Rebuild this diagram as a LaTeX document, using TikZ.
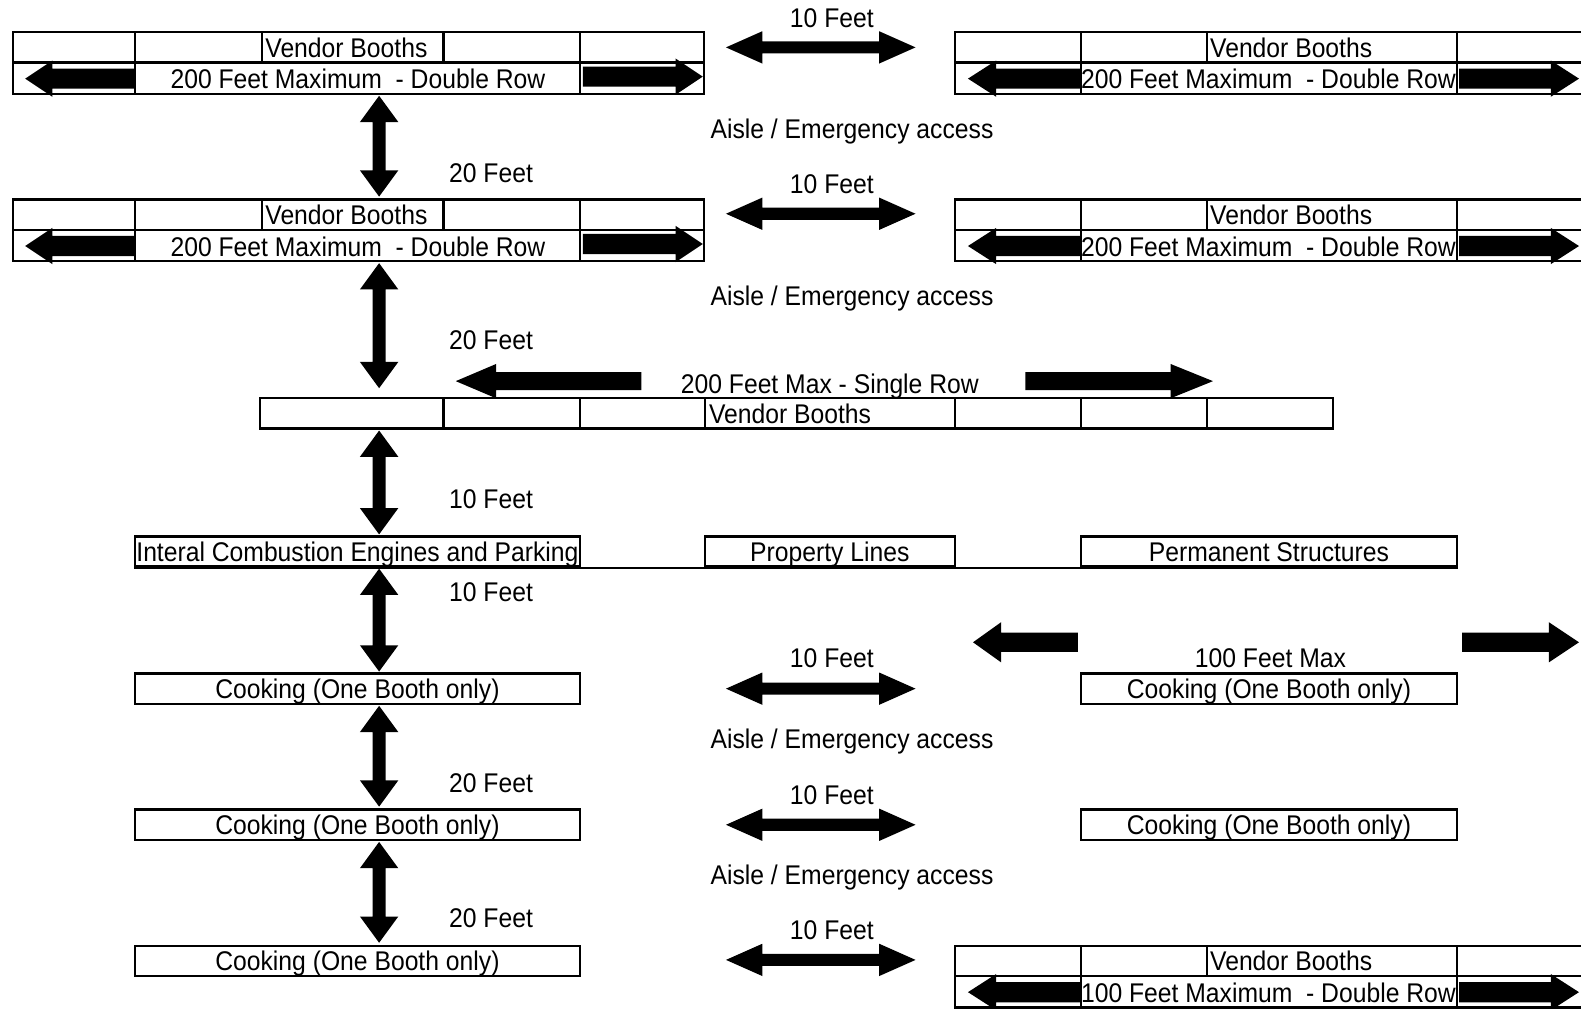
\documentclass[tikz,border=0pt]{standalone}
\usepackage{fontspec}
\setmainfont{Liberation Sans}[FakeStretch=0.914]
% left-pointing block arrow: tip, tail, y, head length, head half, shaft half
\newcommand\LArr[6]{\fill ({#1},{#3}) -- ({#1+#4},{#3-#5}) -- ({#1+#4},{#3-#6}) -- ({#2},{#3-#6}) -- ({#2},{#3+#6}) -- ({#1+#4},{#3+#6}) -- ({#1+#4},{#3+#5}) -- cycle;}
% right-pointing block arrow: tail, tip, y, head length, head half, shaft half
\newcommand\RArr[6]{\fill ({#2},{#3}) -- ({#2-#4},{#3-#5}) -- ({#2-#4},{#3-#6}) -- ({#1},{#3-#6}) -- ({#1},{#3+#6}) -- ({#2-#4},{#3+#6}) -- ({#2-#4},{#3+#5}) -- cycle;}
% horizontal double block arrow: x1, x2, y
\newcommand\HDbl[3]{\fill ({#1},{#3}) -- ({#1+36},{#3-16}) -- ({#1+36},{#3-6}) -- ({#2-36},{#3-6}) -- ({#2-36},{#3-16}) -- ({#2},{#3}) -- ({#2-36},{#3+16}) -- ({#2-36},{#3+6}) -- ({#1+36},{#3+6}) -- ({#1+36},{#3+16}) -- cycle;}
% vertical double block arrow: x, y1, y2
\newcommand\VDbl[3]{\fill ({#1},{#2}) -- ({#1-19},{#2+26}) -- ({#1-6.5},{#2+26}) -- ({#1-6.5},{#3-26}) -- ({#1-19},{#3-26}) -- ({#1},{#3}) -- ({#1+19},{#3-26}) -- ({#1+6.5},{#3-26}) -- ({#1+6.5},{#2+26}) -- ({#1+19},{#2+26}) -- cycle;}
% left double-row block: id, ytop
\newcommand\LDouble[2]{%
 \draw[ln] (13,{#2}) rectangle (698,{#2+61});
 \draw[ln] (13,{#2+30}) -- (698,{#2+30});
 \foreach \xx in {134,575} {\draw[ln] (\xx,{#2}) -- (\xx,{#2+61});}
 \foreach \xx in {260,440} {\draw[ln] (\xx,{#2}) -- (\xx,{#2+30});}
 \LArr{25}{134}{#2+46}{27}{18}{10}
 \RArr{578}{697}{#2+44}{27}{18}{10}
 \node[lblw] (#1v) at (263,{#2+25}) {Vendor Booths};
 \node[lbl] (#1t) at (355,{#2+56}) {200 Feet Maximum~~- Double Row};
}
% right double-row block: id, ytop, text
\newcommand\RDouble[3]{%
 \draw[ln] (947,{#2}) rectangle (1580,{#2+61});
 \draw[ln] (947,{#2+30}) -- (1580,{#2+30});
 \foreach \xx in {1072,1445} {\draw[ln] (\xx,{#2}) -- (\xx,{#2+61});}
 \draw[ln] (1197,{#2}) -- (1197,{#2+30});
 \LArr{960}{1072}{#2+46}{28}{18}{10}
 \RArr{1447}{1566}{#2+46}{28}{18}{10}
 \node[lblw] (#1v) at (1200,{#2+25}) {Vendor Booths};
 \node[lbl] (#1t) at (1258,{#2+56}) {#3};
}
\begin{document}
\begin{tikzpicture}[x=1pt,y=-1pt,
 ln/.style={line width=2.4pt},
 lbl/.style={font=\fontsize{26.8}{30}\selectfont, inner sep=0pt, anchor=base},
 lblw/.style={lbl, anchor=base west},
 bx/.style={draw, line width=2.4pt, inner sep=0pt, minimum height=30pt, font=\fontsize{26.8}{30}\selectfont, text height=19.2pt, text depth=0pt}]
\useasboundingbox (0,0) rectangle (1568,1000);
\fill[white] (0,0) rectangle (1568,1000);
\clip (0,0) rectangle (1568,1000);

% ---- double rows ----
\LDouble{la}{32}
\RDouble{ra}{32}{200 Feet Maximum~~- Double Row}
\LDouble{lb}{198}
\RDouble{rb}{198}{200 Feet Maximum~~- Double Row}
\RDouble{rc}{938}{100 Feet Maximum~~- Double Row}

% ---- single row ----
\draw[ln] (258,395) rectangle (1322,425);
\foreach \xx in {440,575,699,947,1072,1197} {\draw[ln] (\xx,395) -- (\xx,425);}
\node[lblw] (sv) at (703,420) {Vendor Booths};
\LArr{452}{636}{378}{40}{17}{9}
\RArr{1017}{1203}{378}{42}{17}{9}
\node[lbl] (st) at (823,390) {200 Feet Max - Single Row};

% ---- three boxes row ----
\node[bx, minimum width=441pt] (ice) at (354.5,547) {Interal Combustion Engines and Parking};
\node[bx, minimum width=248pt] (prop) at (823,547) {Property Lines};
\node[bx, minimum width=373pt] (perm) at (1258.5,547) {Permanent Structures};
\draw[ln] (ice.south west) -- (perm.south east);

% ---- cooking boxes ----
\node[bx, minimum width=441pt] (c1) at (354.5,683) {Cooking (One Booth only)};
\node[bx, minimum width=441pt] (c2) at (354.5,818) {Cooking (One Booth only)};
\node[bx, minimum width=441pt] (c3) at (354.5,953) {Cooking (One Booth only)};
\node[bx, minimum width=373pt] (c4) at (1258.5,683) {Cooking (One Booth only)};
\node[bx, minimum width=373pt] (c5) at (1258.5,818) {Cooking (One Booth only)};
\LArr{965}{1069}{637}{28}{20}{9.5}
\RArr{1450}{1566}{637}{30}{20}{9.5}
\node[lbl] (hm) at (1260,662) {100 Feet Max};

% ---- vertical arrows ----
\VDbl{376}{95}{195}
\VDbl{376}{261}{385}
\VDbl{376}{427}{530}
\VDbl{376}{564}{666}
\VDbl{376}{700}{800}
\VDbl{376}{835}{935}
\node[lbl] (v1) at (487,181) {20 Feet};
\node[lbl] (v2) at (487,347) {20 Feet};
\node[lbl] (v3) at (487,504) {10 Feet};
\node[lbl] (v4) at (487,597) {10 Feet};
\node[lbl] (v5) at (487,786) {20 Feet};
\node[lbl] (v6) at (487,920) {20 Feet};

% ---- horizontal arrows ----
\HDbl{720}{908}{47}
\HDbl{720}{908}{212}
\HDbl{720}{908}{683}
\HDbl{720}{908}{818}
\HDbl{720}{908}{952}
\node[lbl] (h1) at (825,27) {10 Feet};
\node[lbl] (h2) at (825,192) {10 Feet};
\node[lbl] (h3) at (825,662) {10 Feet};
\node[lbl] (h4) at (825,798) {10 Feet};
\node[lbl] (h5) at (825,932) {10 Feet};

% ---- aisles ----
\node[lbl] (a1) at (845,137) {Aisle / Emergency access};
\node[lbl] (a2) at (845,303) {Aisle / Emergency access};
\node[lbl] (a3) at (845,742) {Aisle / Emergency access};
\node[lbl] (a4) at (845,877) {Aisle / Emergency access};
\end{tikzpicture}
\end{document}
